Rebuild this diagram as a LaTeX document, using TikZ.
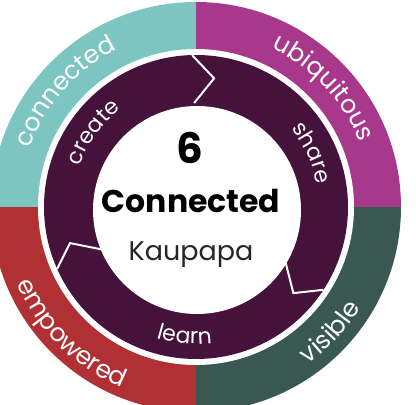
\documentclass[tikz,border=0pt]{standalone}
\usepackage{fontspec}
\setmainfont{Poppins}
\usetikzlibrary{decorations.text}
\definecolor{tealband}{HTML}{7DC5C0}
\definecolor{plumband}{HTML}{A7388C}
\definecolor{pineband}{HTML}{395851}
\definecolor{redband}{HTML}{B13034}
\definecolor{loopring}{HTML}{44123A}
\newcommand\bandtext{\fontsize{25}{25}\selectfont\color{white}}
\newcommand\looptext{\fontsize{22}{22}\selectfont\color{white}}
\tikzset{
  chevron/.style={draw=white,line width=2pt,line join=miter},
  ringlabel/.style={decorate,decoration={text along path,text align=center,text={#1}}}
}
\begin{document}
\begin{tikzpicture}[x=1pt,y=1pt]
\useasboundingbox (-196,-198) rectangle (220,207);
\clip (-196,-198) rectangle (220,207);
% four outer bands
\fill[plumband] (0,0) -- (0:205) arc[start angle=0,end angle=90,radius=205] -- cycle;
\fill[tealband] (0,0) -- (90:205) arc[start angle=90,end angle=180,radius=205] -- cycle;
\fill[redband] (0,0) -- (180:205) arc[start angle=180,end angle=270,radius=205] -- cycle;
\fill[pineband] (0,0) -- (270:205) arc[start angle=270,end angle=360,radius=205] -- cycle;
\fill[white] (0,0) circle (158);
% purple loop
\fill[loopring] (0,0) circle (152);
\draw[chevron] (91.5:152) -- (82:130) -- (91:104);
\draw[chevron] (-33:152) -- (-41.5:130) -- (-31:104);
\draw[chevron] (204:152) -- (196:131) -- (204:104);
\node[circle,fill=white,minimum size=208pt,inner sep=0pt] (hub) at (1,-3) {};
% labels on the bands
\path[ringlabel={|\bandtext|connected}] (188.5:176) arc[start angle=188.5,end angle=88.5,radius=176];
\path[ringlabel={|\bandtext|ubiquitous}] (93:176) arc[start angle=93,end angle=-7,radius=176];
\path[ringlabel={|\bandtext|visible}] (-93:193) arc[start angle=-93,end angle=7,radius=193];
\path[ringlabel={|\bandtext|empowered}] (175.5:195) arc[start angle=175.5,end angle=275.5,radius=195];
% labels on the loop
\path[ringlabel={|\looptext|create}] (194:123) arc[start angle=194,end angle=94,radius=123];
\path[ringlabel={|\looptext|share}] (75:123) arc[start angle=75,end angle=-25,radius=123];
\path[ringlabel={|\looptext|learn}] (215:137) arc[start angle=215,end angle=315,radius=137];
% centre
\node[anchor=base] (six) at (-6,44) {\fontsize{42}{42}\selectfont\bfseries 6};
\node[anchor=base] (title) at (-5,-5) {\fontsize{31.5}{31.5}\selectfont\bfseries Connected};
\node[anchor=base,text=black!85] (sub) at (-5,-53) {\fontsize{27}{27}\selectfont Kaupapa};
\end{tikzpicture}
\end{document}
